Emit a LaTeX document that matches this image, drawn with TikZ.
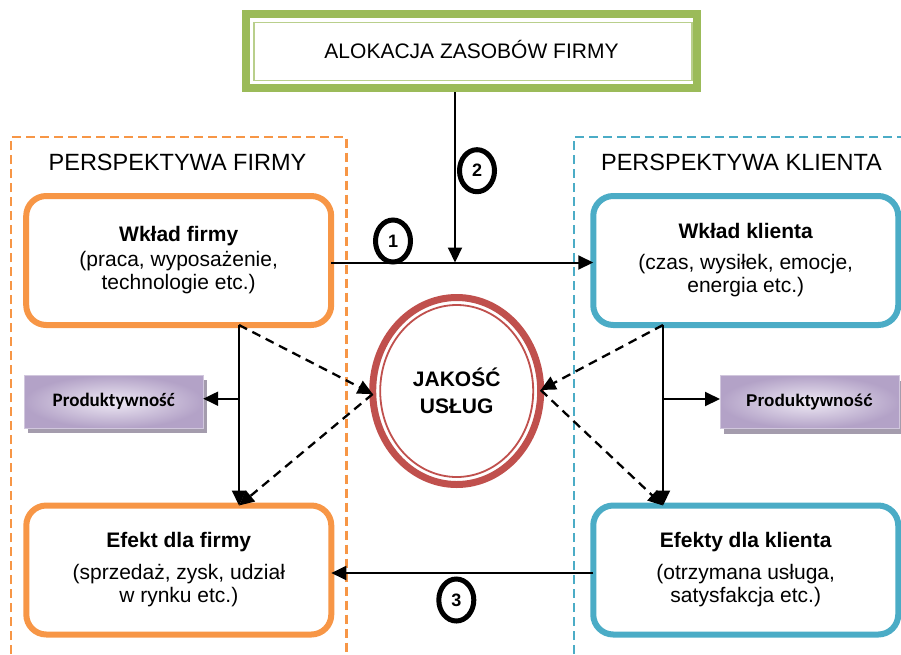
\documentclass[tikz,border=0pt]{standalone}
\usepackage{fontspec}
\setmainfont{Liberation Sans}
\newfontfamily\calibfont{Carlito}
\usetikzlibrary{arrows.meta,shapes.geometric,shadows}
\definecolor{cOrange}{HTML}{F79646}
\definecolor{cBlue}{HTML}{4BACC6}
\definecolor{cGreen}{HTML}{9BBB59}
\definecolor{cGreenL}{HTML}{B9CF8C}
\definecolor{cRed}{HTML}{C0504D}
\definecolor{cPurp}{HTML}{B3A2C7}
\definecolor{cPurpL}{HTML}{EEE9F4}
\definecolor{cShadow}{HTML}{A49CAD}
\begin{document}
\begin{tikzpicture}[x=1pt,y=-1pt,
  every node/.style={inner sep=0pt, outer sep=0pt},
  mainbox/.style={draw, line width=6pt, rounded corners=20pt, fill=white,
    minimum width=305pt, minimum height=129pt, align=center,
    font=\fontsize{21}{23}\selectfont},
  firm/.style={mainbox, draw=cOrange},
  client/.style={mainbox, draw=cBlue},
  prodbox/.style={draw=cPurp!60, line width=0.8pt, inner color=cPurpL, outer color=cPurp,
    minimum width=179pt, minimum height=53pt,
    drop shadow={shadow xshift=4pt, shadow yshift=-5pt, fill=cShadow, opacity=1}},
  numbadge/.style={ellipse, draw, line width=5pt, fill=white, minimum width=35pt,
    minimum height=42pt, font=\fontsize{18}{18}\selectfont\bfseries},
  conn/.style={line width=2pt, -{Triangle[length=15pt,width=14pt]}},
  dconn/.style={conn, line width=2.3pt, dash pattern=on 9pt off 6pt},
  frame/.style={line width=2.2pt, dash pattern=on 9pt off 5pt},
  titletext/.style={font=\fontsize{23.5}{25}\selectfont, text height=17pt, text depth=0pt}
]
\useasboundingbox (0,0) rectangle (901,654);

% dashed perspective frames
\draw[frame, cOrange] (11,654) -- (11,137) -- (346.5,137) -- (346.5,654);
\draw[frame, cBlue] (574,654) -- (574,137) -- (901,137);

% titles
\node[titletext] (tf) at (177.5,161.7) {PERSPEKTYWA FIRMY};
\node[titletext] (tk) at (741.5,161.7) {PERSPEKTYWA KLIENTA};

% top allocation box
\node[draw=cGreen, line width=8pt, fill=white, minimum width=450.6pt, minimum height=74.4pt,
  font=\fontsize{21}{23}\selectfont, text height=15pt, text depth=0pt] (top) at (471.5,51.2)
  {ALOKACJA ZASOBÓW FIRMY};
\draw[cGreenL, line width=1.6pt] ([shift={(7.6,8.5)}]top.north west) rectangle ([shift={(-5.1,-7.9)}]top.south east);

% main boxes
\node[firm] (wf) at (178.7,260.5) {\textbf{Wkład firmy}\\[2pt](praca, wyposażenie,\\technologie etc.)};
\node[client] (wk) at (745.75,260.5) {\textbf{Wkład klienta}\\[8pt](czas, wysiłek, emocje,\\energia etc.)};
\node[firm] (ef) at (178.8,570) {\textbf{Efekt dla firmy}\\[9pt](sprzedaż, zysk, udział\\w rynku etc.)};
\node[client] (ek) at (745.75,570) {\textbf{Efekty dla klienta}\\[9pt](otrzymana usługa,\\satysfakcja etc.)};

% central quality ellipse
\node[ellipse, draw=cRed, line width=7pt, fill=white, minimum width=168pt, minimum height=187pt,
  align=center, font=\fontsize{21}{26.7}\selectfont\bfseries] (c) at (456.7,391) {JAKOŚĆ\\USŁUG};
\draw[cRed, line width=1.8pt] (c.center) ellipse [x radius=76.5, y radius=86];

% productivity boxes
\node[prodbox, font=\calibfont\fontsize{19}{21}\selectfont\bfseries] (pl) at (113.7,401.7) {Produktywność};
\node[prodbox, font=\fontsize{17}{19}\selectfont\bfseries] (pr) at (809.5,402) {Produktywność};

% helper coordinates
\coordinate (lx) at (239,0);
\coordinate (rx) at (663,0);
\coordinate (m) at (455,262.5);

% left side connectors
\draw[conn] (lx |- wf.south) -- (lx |- ef.north);
\draw[conn] ([yshift=3pt]lx |- pl.east) -- ([yshift=3pt]pl.east);
\draw[dconn] (lx |- wf.south) -- ([yshift=-3pt]c.west);
\draw[dconn] ([yshift=-3pt]c.west) -- (lx |- ef.north);

% right side connectors
\draw[conn] (rx |- wk.south) -- (rx |- ek.north);
\draw[conn] ([yshift=3pt]rx |- pr.west) -- ([yshift=3pt]pr.west);
\draw[dconn] (rx |- wk.south) -- ([yshift=1pt]c.east);
\draw[dconn] ([yshift=1pt]c.east) -- (rx |- ek.north);

% main flow arrows
\draw[conn] ([yshift=-2pt]wf.east) -- ([yshift=-2pt]wk.west);
\draw[conn, shorten <=4pt] (m |- top.south) -- (m);
\draw[conn] ([yshift=-3pt]ek.west) -- ([yshift=-3pt]ef.east);

% number badges
\node[numbadge] (n1) at (393,241) {1};
\node[numbadge] (n2) at (477,170.7) {2};
\node[numbadge] (n3) at (456.3,600) {3};
\end{tikzpicture}
\end{document}
